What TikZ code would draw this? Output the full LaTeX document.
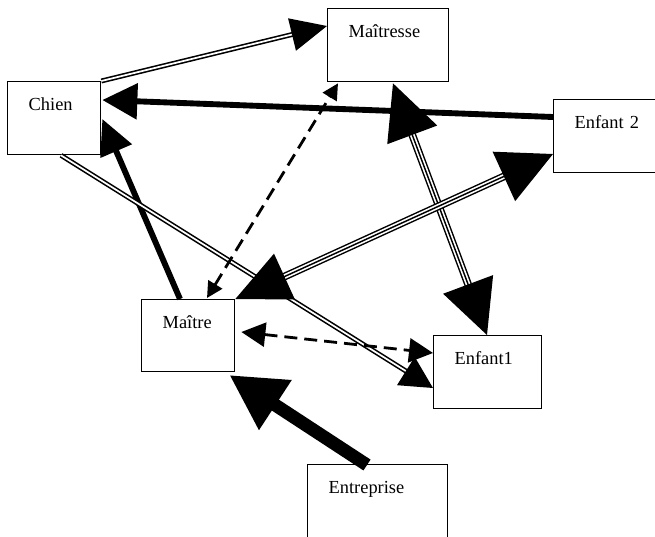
\documentclass[tikz,border=0pt]{standalone}
\usepackage{fontspec}
\setmainfont{Liberation Serif}
\usetikzlibrary{arrows.meta,calc}

\tikzset{
  box/.style={draw, line width=1pt, anchor=north west, align=left, inner xsep=15.75pt,
    inner ysep=0pt, text height=21.75pt, font=\fontsize{13.8}{16}\selectfont},
  fat/.style={line width=4.4pt},
  heavy/.style={line width=9.75pt},
  twin/.style={double, line width=1.2pt, double distance=1.3pt},
  triple/.style={double, line width=1.1pt, double distance=3.6pt},
  middle/.style={line width=1.1pt, shorten <=12pt, shorten >=12pt},
  dashline/.style={line width=2.1pt, dash pattern=on 9.75pt off 5.25pt},
}

\begin{document}
\begin{tikzpicture}[x=0.75pt, y=-0.75pt]
	\clip (0,0) rectangle (655,536);
	% boxes
	\node[box, text width=38.25pt, text depth=33pt] (chien) at (7,81) {Chien};
	\node[box, text width=59.25pt, text depth=33pt] (maitresse) at (327,8) {Maîtresse};
	\node[box, text width=66pt, text depth=33pt] (enfantdeux) at (553,99) {Enfant 2};
	\node[box, text width=38.25pt, text depth=32.25pt] (maitre) at (141,299) {Maître};
	\node[box, text width=49.5pt, text depth=33pt] (enfantun) at (433,335) {Enfant1};
	\node[box, text width=73.5pt, text depth=45.75pt] (entreprise) at (307,464) {Entreprise};
	% connectors
	\draw[twin, -{Triangle[length=27pt,width=24.75pt]}] (chien.north east) -- ($(maitresse.north west)+(0,18)$);
	\draw[fat, -{Triangle[length=26.25pt,width=26.25pt]}] ($(enfantdeux.north west)+(0,18)$) -- ($(chien.north east)+(1,19)$);
	\draw[fat, -{Triangle[length=26.25pt,width=24.75pt]}] ($(maitre.north west)+(39,0)$) -- ($(chien.north east)+(1,38)$);
	\draw[twin, -{Triangle[length=24pt,width=24.75pt]}] ($(chien.south west)+(54,0)$) -- ($(enfantun.north west)+(0,53)$);
	\draw[dashline, {Triangle[length=12pt,width=12pt]}-{Triangle[length=12pt,width=12pt]}] ($(maitre.north west)+(66,-1)$) -- ($(maitresse.south west)+(11,1)$);
	\draw[dashline, {Triangle[length=18pt,width=18pt]}-{Triangle[length=18pt,width=18pt]}] ($(maitre.north east)+(6,33)$) -- ($(enfantun.north west)+(0,18)$);
	\draw[triple, {Triangle[length=41.25pt,width=39.75pt]}-{Triangle[length=40.5pt,width=39.75pt]}] ($(maitresse.south west)+(66,1)$) -- ($(enfantun.north west)+(54,0)$);
	\draw[middle] ($(maitresse.south west)+(66,1)$) -- ($(enfantun.north west)+(54,0)$);
	\draw[triple, {Triangle[length=40.5pt,width=37.5pt]}-{Triangle[length=40.5pt,width=40.5pt]}] (maitre.north east) -- ($(enfantdeux.north west)+(0,55)$);
	\draw[middle] (maitre.north east) -- ($(enfantdeux.north west)+(0,55)$);
	\draw[heavy, -{Triangle[length=41.25pt,width=42pt]}] ($(entreprise.north west)+(60,1)$) -- ($(maitre.north east)+(-6,76)$);
\end{tikzpicture}
\end{document}
